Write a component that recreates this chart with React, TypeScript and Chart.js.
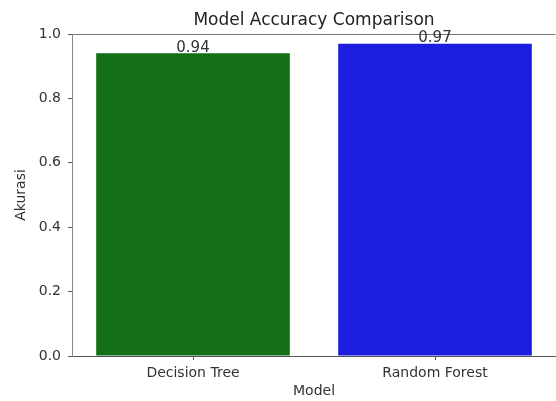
import React, { useEffect, useRef } from "react";
import { Chart, registerables } from "chart.js";

Chart.register(...registerables);

const categories = ["Decision Tree", "Random Forest"];
const accuracy = [0.94, 0.97];
const barColors = ["#126f16", "#1d1de0"];
const yTicks = [0, 0.2, 0.4, 0.6, 0.8, 1.0];
const chartTitle = "Model Accuracy Comparison";
const xTitle = "Model";
const yTitle = "Akurasi";

const FONT = "'DejaVu Sans', sans-serif";

const boxPlugin = {
  id: "boxAndLabels",
  afterDatasetsDraw(chart: any) {
    const { ctx, chartArea } = chart;
    ctx.save();
    ctx.strokeStyle = "#777";
    ctx.lineWidth = 1;
    const l = Math.round(chartArea.left) + 0.5;
    const t = Math.round(chartArea.top) + 0.5;
    const r = Math.round(chartArea.right) - 0.5;
    ctx.beginPath();
    ctx.moveTo(l, t);
    ctx.lineTo(r, t);
    ctx.stroke();
    // value labels
    const meta = chart.getDatasetMeta(0);
    ctx.fillStyle = "#333";
    ctx.font = `15px ${FONT}`;
    ctx.textAlign = "center";
    ctx.textBaseline = "bottom";
    meta.data.forEach((bar: any, i: number) => {
      ctx.fillText(accuracy[i].toFixed(2), bar.x, bar.y + 2);
    });
    // title
    ctx.font = `17px ${FONT}`;
    ctx.fillStyle = "#222";
    ctx.textBaseline = "middle";
    ctx.fillText(chartTitle, (chartArea.left + chartArea.right) / 2, 21);
    ctx.restore();
  },
};

export default function App() {
  const ref = useRef<HTMLCanvasElement | null>(null);
  useEffect(() => {
    if (!ref.current) return;
    const chart = new Chart(ref.current, {
      type: "bar",
      data: {
        labels: categories,
        datasets: [
          {
            data: accuracy,
            backgroundColor: barColors,
            borderWidth: 0,
            barPercentage: 0.8,
            categoryPercentage: 1,
          },
        ],
      },
      options: {
        responsive: false,
        animation: false,
        layout: { padding: { top: 34, right: 0, left: 0, bottom: 0 } },
        plugins: { legend: { display: false }, tooltip: { enabled: false } },
        scales: {
          x: {
            offset: true,
            grid: {
              offset: false,
              drawOnChartArea: false,
              tickLength: 4,
              color: "#555",
            },
            border: { color: "#555" },
            ticks: { font: { family: FONT, size: 14 }, color: "#333", padding: 5 },
            title: {
              display: true,
              text: xTitle,
              font: { family: FONT, size: 14 },
              color: "#333",
              padding: { top: 0, bottom: 1 },
            },
            afterFit: (s: any) => {
              s.height = 45;
            },
          },
          y: {
            min: 0,
            max: 1,
            afterBuildTicks: (s: any) => {
              s.ticks = yTicks.map((v) => ({ value: v }));
            },
            grid: { drawOnChartArea: false, tickLength: 4, color: "#555" },
            border: { color: "#888" },
            ticks: {
              font: { family: FONT, size: 14 },
              color: "#333",
              padding: 7,
              callback: (v: any) => Number(v).toFixed(1),
            },
            title: {
              display: true,
              text: yTitle,
              font: { family: FONT, size: 14 },
              color: "#333",
              padding: { top: 13, bottom: 0 },
            },
            afterFit: (s: any) => {
              s.width = 72;
            },
          },
        },
      },
      plugins: [boxPlugin],
    });
    return () => chart.destroy();
  }, []);
  return (
    <div style={{ position: "absolute", left: 0, top: 0, background: "#fff" }}>
      <canvas ref={ref} width={556} height={401} />
    </div>
  );
}
